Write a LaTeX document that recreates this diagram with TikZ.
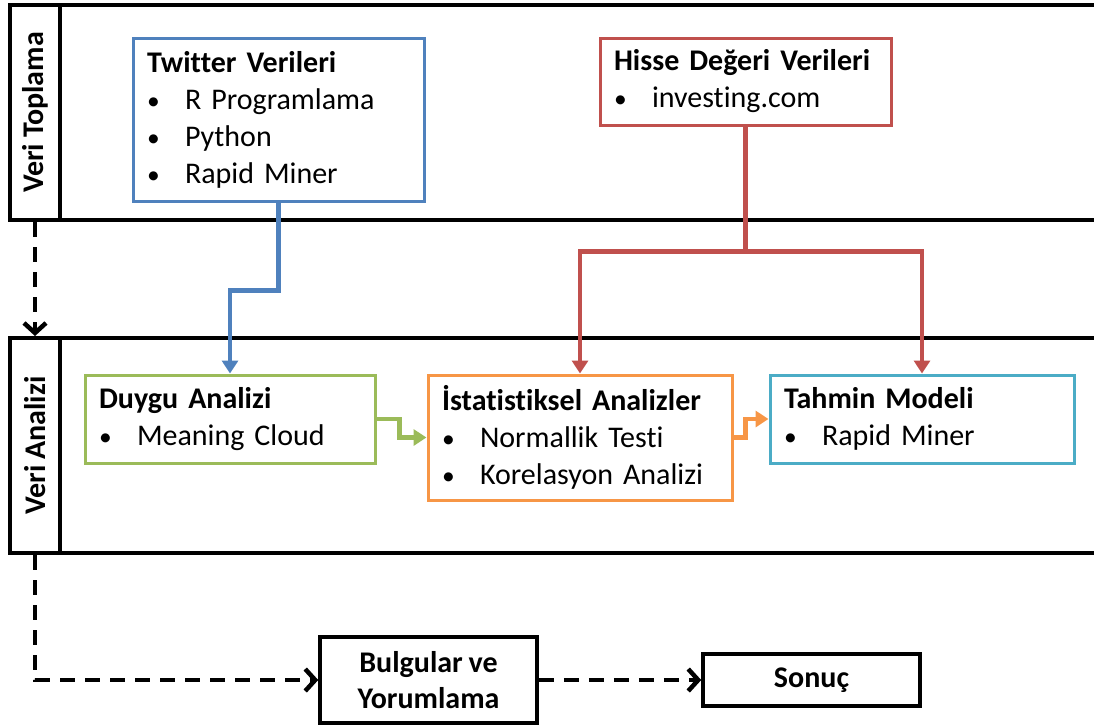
\documentclass[tikz,border=0pt]{standalone}
\usepackage{graphicx}
\usepackage{fontspec}
\setmainfont{Carlito}[Ligatures=NoCommon, WordSpace=0.85]
\usetikzlibrary{positioning,arrows.meta}
\definecolor{twblue}{HTML}{4F81BD}
\definecolor{hsred}{HTML}{C0504D}
\definecolor{dygreen}{HTML}{9BBB59}
\definecolor{storange}{HTML}{F79646}
\definecolor{tmteal}{HTML}{4BACC6}
\newcommand{\bul}[1]{\\\makebox[38pt][l]{\scalebox{0.85}{\textbullet}}#1}
\tikzset{
  lane/.style={draw, line width=4pt, minimum width=1100pt, minimum height=215pt, inner sep=0pt},
  lanelabel/.style={draw, fill=white, line width=4pt, minimum width=50pt, minimum height=215pt, inner sep=0pt, font=\fontsize{30}{36}\selectfont\bfseries},
  infobox/.style={draw=#1, line width=3pt, fill=white, align=left, inner xsep=14pt, inner ysep=0pt},
  endbox/.style={draw, line width=3.5pt, fill=white, align=center, inner sep=0pt, font=\fontsize{30}{36}\selectfont\bfseries},
  flowarrow/.style={line width=4.5pt, -{Triangle[length=13pt,width=16pt]}},
  dasharrow/.style={line width=4.5pt, dash pattern=on 15pt off 10pt, -{Straight Barb[length=10pt,width=22pt]}}
}

\begin{document}
\begin{tikzpicture}[x=1pt, y=-1pt, every node/.style={font=\fontsize{30}{37}\selectfont}]
  \clip (0,0) rectangle (1094,724);
  % swimlanes
  \node[lane] (lane1) at (560,112.5) {};
  \node[lane] (lane2) at (560,445.5) {};
  \node[lanelabel] (lab1) at (35,112.5) {\rotatebox{90}{Veri Toplama}};
  \node[lanelabel] (lab2) at (35,445.5) {\rotatebox{90}{Veri Analizi}};

  % data sources
  \node[infobox=twblue, text width=263pt, minimum height=163pt] (tw) at (278.5,119.5)
    {\textbf{Twitter Verileri}\bul{R Programlama}\bul{Python}\bul{Rapid Miner}};
  \node[infobox=hsred, text width=263pt, minimum height=87pt] (hi) at (745.5,81.5)
    {\textbf{Hisse Değeri Verileri}\bul{investing.com}};

  % analysis
  \node[infobox=dygreen, text width=262pt, minimum height=88pt] (du) at (230,419)
    {\textbf{Duygu Analizi}\bul{Meaning Cloud}};
  \node[infobox=storange, text width=276pt, minimum height=125pt] (st) at (580,437.5)
    {\textbf{İstatistiksel Analizler}\bul{Normallik Testi}\bul{Korelasyon Analizi}};
  \node[infobox=tmteal, text width=276pt, minimum height=88pt] (ta) at (922,419)
    {\textbf{Tahmin Modeli}\bul{Rapid Miner}};

  % results
  \node[endbox, minimum width=217pt, minimum height=86pt] (bu) at (428.5,680) {Bulgular ve\\Yorumlama};
  \node[endbox, minimum width=217pt, minimum height=52pt] (so) at (811.5,680) {Sonuç};

  % connectors
  \draw[flowarrow, twblue] (tw.south) -- ++(0,88) -| (du.north);
  \draw[line width=4.5pt, hsred] (hi.south) -- ++(0,125) coordinate (split);
  \draw[flowarrow, hsred] (split) -| (st.north);
  \draw[flowarrow, hsred] (split) -| (ta.north);
  \draw[flowarrow, dygreen] (du.east) -- ++(23,0) |- (st.west);
  \draw[flowarrow, storange] (st.east) -- ++(12,0) |- (ta.west);

  \draw[dasharrow] (lab1.south) -- (lab2.north);
  \draw[dasharrow] (lab2.south) |- (bu.west);
  \draw[dasharrow] (bu.east) -- (so.west);
\end{tikzpicture}
\end{document}
